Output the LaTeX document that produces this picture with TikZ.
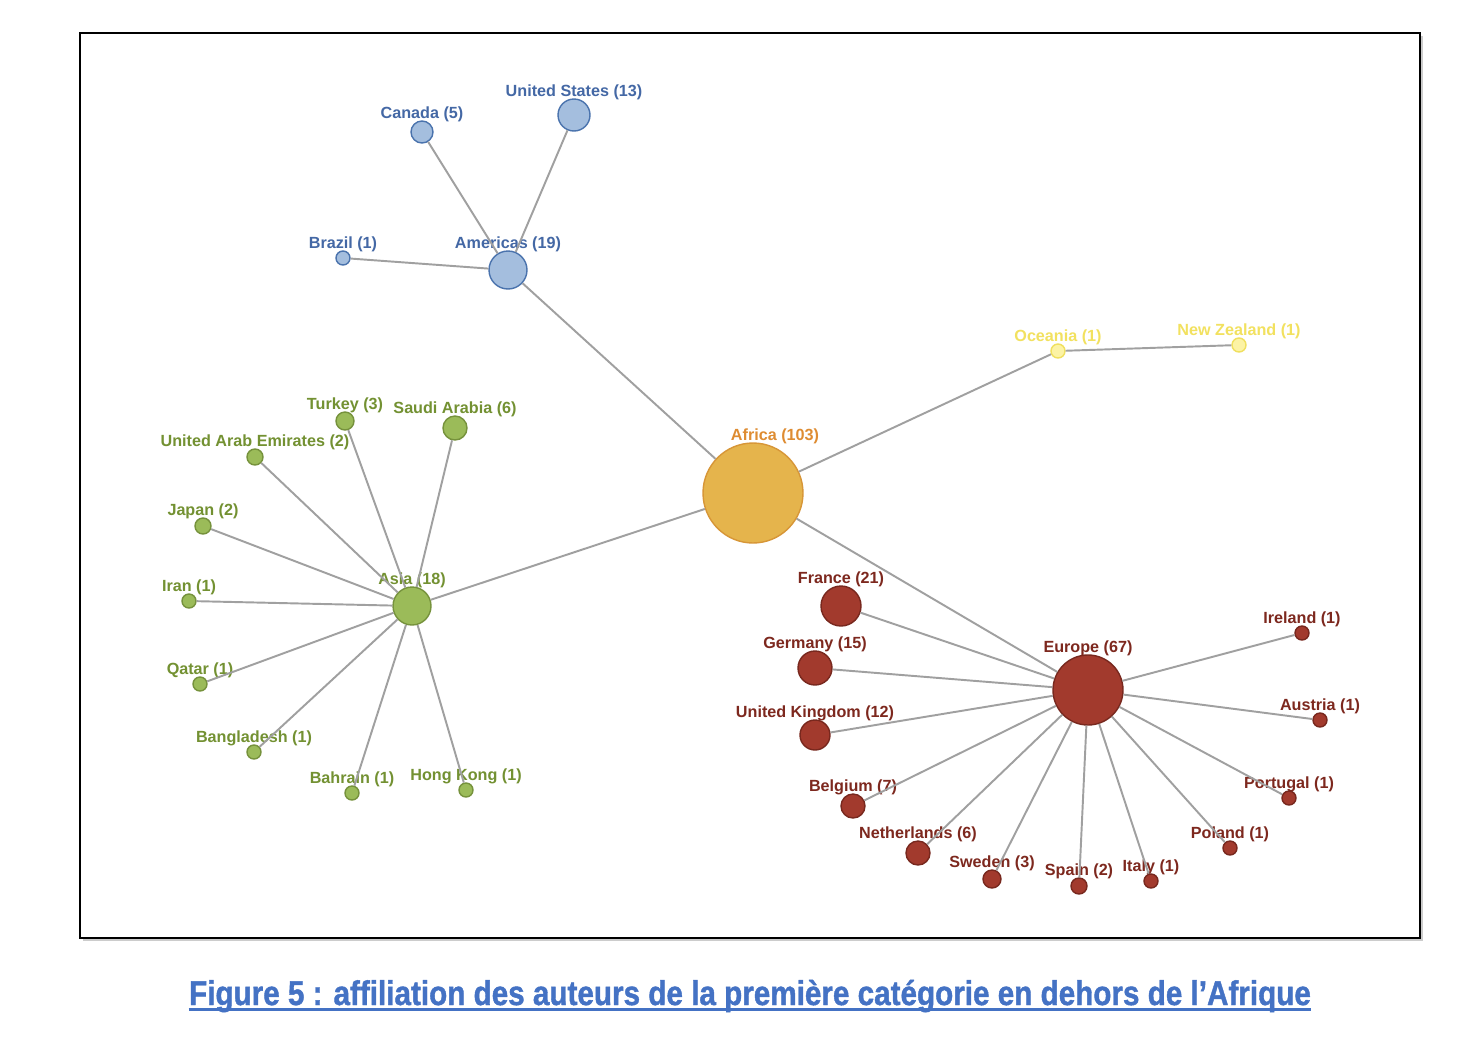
\documentclass[tikz,border=0pt]{standalone}
\usepackage{fontspec}
\setmainfont{Liberation Sans}
\newfontfamily\capfont[FakeBold=1.3]{Liberation Sans Bold}
\usepackage{graphicx}
\usetikzlibrary{positioning}
\definecolor{amfill}{RGB}{164,190,222}
\definecolor{amdraw}{RGB}{74,115,173}
\definecolor{amtext}{RGB}{68,104,165}
\definecolor{affill}{RGB}{229,180,76}
\definecolor{afdraw}{RGB}{215,150,55}
\definecolor{aftext}{RGB}{222,140,50}
\definecolor{ocfill}{RGB}{252,243,165}
\definecolor{ocdraw}{RGB}{240,224,95}
\definecolor{octext}{RGB}{242,225,95}
\definecolor{asfill}{RGB}{155,187,89}
\definecolor{asdraw}{RGB}{118,146,60}
\definecolor{astext}{RGB}{115,145,50}
\definecolor{eufill}{RGB}{162,58,45}
\definecolor{eudraw}{RGB}{120,40,30}
\definecolor{eutext}{RGB}{125,40,30}
\definecolor{linkcolor}{RGB}{160,160,160}
\definecolor{capblue}{RGB}{68,114,196}

\tikzset{
  rad/.style={minimum size=#1*0.4mm},
  blob/.style={circle, inner sep=0pt, line width=0.8pt},
  lbl/.style={font=\bfseries\fontsize{9.2}{11}\selectfont, inner sep=0pt},
  am/.style={blob, fill=amfill, draw=amdraw},
  af/.style={blob, fill=affill, draw=afdraw},
  oc/.style={blob, fill=ocfill, draw=ocdraw},
  as/.style={blob, fill=asfill, draw=asdraw},
  eu/.style={blob, fill=eufill, draw=eudraw},
  amlbl/.style={lbl, text=amtext},
  aflbl/.style={lbl, text=aftext},
  oclbl/.style={lbl, text=octext},
  aslbl/.style={lbl, text=astext},
  eulbl/.style={lbl, text=eutext},
  link/.style={draw=linkcolor, line width=1.1pt}
}

\begin{document}
\begin{tikzpicture}[x=0.02cm, y=-0.02cm, label distance=-0.4mm]
    \useasboundingbox (0,0) rectangle (1482,1046);
    % frame
    \fill[black!20] (83,36) rectangle (1423,941);
    \draw[black, line width=0.8pt, fill=white] (80,33) rectangle (1420,938);

    % Africa and the regions
    \node[af, rad=50, label={[aflbl, xshift=0.44cm]above:Africa (103)}] (africa) at (753,493) {};
    \node[am, rad=19, label={[amlbl]above:Americas (19)}] (americas) at (508,270) {};
    \node[oc, rad=7, label={[oclbl]above:Oceania (1)}] (oceania) at (1058,351) {};
    \node[as, rad=19, label={[aslbl]above:Asia (18)}] (asia) at (412,606) {};
    \node[eu, rad=35, label={[eulbl]above:Europe (67)}] (europe) at (1088,690) {};

    % Americas
    \node[am, rad=16, label={[amlbl]above:United States (13)}] (us) at (574,115) {};
    \node[am, rad=11, label={[amlbl]above:Canada (5)}] (canada) at (422,132) {};
    \node[am, rad=7, label={[amlbl]above:Brazil (1)}] (brazil) at (343,258) {};

    % Oceania
    \node[oc, rad=7, label={[oclbl]above:New Zealand (1)}] (nz) at (1239,345) {};

    % Asia
    \node[as, rad=9, label={[aslbl]above:Turkey (3)}] (turkey) at (345,421) {};
    \node[as, rad=12, label={[aslbl]above:Saudi Arabia (6)}] (saudi) at (455,428) {};
    \node[as, rad=8, label={[aslbl]above:United Arab Emirates (2)}] (uae) at (255,457) {};
    \node[as, rad=8, label={[aslbl]above:Japan (2)}] (japan) at (203,526) {};
    \node[as, rad=7, label={[aslbl]above:Iran (1)}] (iran) at (189,601) {};
    \node[as, rad=7, label={[aslbl]above:Qatar (1)}] (qatar) at (200,684) {};
    \node[as, rad=7, label={[aslbl]above:Bangladesh (1)}] (bangladesh) at (254,752) {};
    \node[as, rad=7, label={[aslbl]above:Bahrain (1)}] (bahrain) at (352,793) {};
    \node[as, rad=7, label={[aslbl]above:Hong Kong (1)}] (hongkong) at (466,790) {};

    % Europe
    \node[eu, rad=20, label={[eulbl]above:France (21)}] (france) at (841,606) {};
    \node[eu, rad=17, label={[eulbl]above:Germany (15)}] (germany) at (815,668) {};
    \node[eu, rad=15, label={[eulbl]above:United Kingdom (12)}] (uk) at (815,735) {};
    \node[eu, rad=12, label={[eulbl]above:Belgium (7)}] (belgium) at (853,806) {};
    \node[eu, rad=12, label={[eulbl]above:Netherlands (6)}] (netherlands) at (918,853) {};
    \node[eu, rad=9, label={[eulbl]above:Sweden (3)}] (sweden) at (992,879) {};
    \node[eu, rad=8, label={[eulbl]above:Spain (2)}] (spain) at (1079,886) {};
    \node[eu, rad=7, label={[eulbl]above:Italy (1)}] (italy) at (1151,881) {};
    \node[eu, rad=7, label={[eulbl]above:Poland (1)}] (poland) at (1230,848) {};
    \node[eu, rad=7, label={[eulbl]above:Portugal (1)}] (portugal) at (1289,798) {};
    \node[eu, rad=7, label={[eulbl]above:Austria (1)}] (austria) at (1320,720) {};
    \node[eu, rad=7, label={[eulbl]above:Ireland (1)}] (ireland) at (1302,633) {};

    % links
    \foreach \r in {americas, oceania, asia, europe}
        \draw[link] (africa) -- (\r);
    \foreach \c in {us, canada, brazil}
        \draw[link] (americas) -- (\c);
    \draw[link] (oceania) -- (nz);
    \foreach \c in {turkey, saudi, uae, japan, iran, qatar, bangladesh, bahrain, hongkong}
        \draw[link] (asia) -- (\c);
    \foreach \c in {france, germany, uk, belgium, netherlands, sweden, spain, italy, poland, portugal, austria, ireland}
        \draw[link] (europe) -- (\c);

    % caption
    \node[anchor=base, inner sep=0pt, text=capblue, font=\capfont\fontsize{19.5}{22}\selectfont] (caption) at (750,1005)
        {\resizebox{22.44cm}{\height}{Figure 5 : affiliation des auteurs de la première catégorie en dehors de l’Afrique}};
    \draw[capblue, line width=0.05cm] ([yshift=-0.09cm]caption.base west) -- ([yshift=-0.09cm]caption.base east);
\end{tikzpicture}
\end{document}
